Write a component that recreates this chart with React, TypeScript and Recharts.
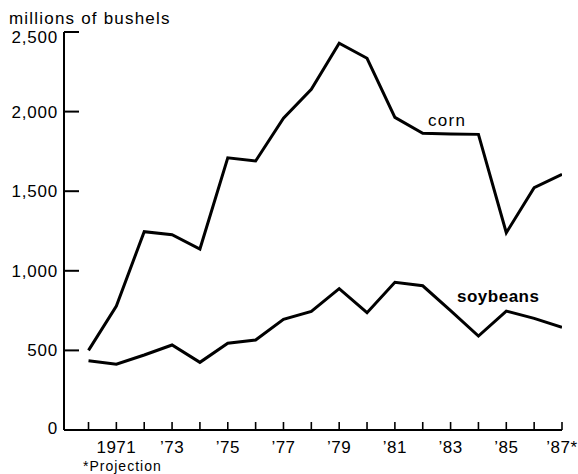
import React from 'react';
import { LineChart, Line, XAxis, YAxis } from 'recharts';

const years = [1970, 1971, 1972, 1973, 1974, 1975, 1976, 1977, 1978, 1979, 1980, 1981, 1982, 1983, 1984, 1985, 1986, 1987];
const cornValues = [500, 779, 1246, 1227, 1137, 1710, 1690, 1958, 2140, 2429, 2335, 1964, 1864, 1860, 1857, 1239, 1522, 1606];
const soybeanValues = [435, 413, 471, 534, 425, 545, 565, 695, 745, 888, 737, 928, 906, 750, 590, 747, 701, 645];

const yTicks = [0, 500, 1000, 1500, 2000, 2500];
const yTickLabels = ['0', '500', '1,000', '1,500', '2,000', '2,500'];
const labeledYears = [1971, 1973, 1975, 1977, 1979, 1981, 1983, 1985, 1987];
const xTickLabels = ['1971', '\u201973', '\u201975', '\u201977', '\u201979', '\u201981', '\u201983', '\u201985', '\u201987*'];

const data = years.map((year, i) => ({ year, corn: cornValues[i], soybeans: soybeanValues[i] }));

const FONT = '"Liberation Sans", Arial, Helvetica, sans-serif';

const XTick = (props: any) => {
  const { x, y, payload } = props;
  const idx = labeledYears.indexOf(payload.value);
  return (
    <g>
      <line x1={x} x2={x} y1={y} y2={y - 8} stroke="#000" strokeWidth={1.6} />
      {idx >= 0 && (
        <text x={x} y={y + 23} textAnchor="middle" fontFamily={FONT} fontSize={17} letterSpacing={0.5} fill="#000">
          {xTickLabels[idx]}
        </text>
      )}
    </g>
  );
};

const YTick = (props: any) => {
  const { x, y, payload } = props;
  const idx = yTicks.indexOf(payload.value);
  const isTop = idx === yTicks.length - 1;
  const isBottom = idx === 0;
  const dy = isTop ? 11 : isBottom ? 4 : 6;
  return (
    <g>
      <line x1={x} x2={x + 15} y1={y} y2={y} stroke="#000" strokeWidth={2} />
      <text x={x - 6} y={y + dy} textAnchor="end" fontFamily={FONT} fontSize={17} letterSpacing={0.8} fill="#000">
        {idx >= 0 ? yTickLabels[idx] : ''}
      </text>
    </g>
  );
};

export default function App() {
  return (
    <div style={{ position: 'absolute', left: 0, top: 0, width: 578, height: 474, background: '#fff' }}>
      <LineChart width={578} height={474} data={data} margin={{ top: 32, right: 16, left: 14, bottom: 14 }}>
        <XAxis
          dataKey="year"
          type="number"
          domain={[1969.12, 1987]}
          ticks={years}
          interval={0}
          height={30}
          tickSize={0}
          tickMargin={0}
          tickLine={false}
          tick={(p: any) => <XTick {...p} />}
          axisLine={{ stroke: '#000', strokeWidth: 2 }}
          allowDataOverflow
        />
        <YAxis
          type="number"
          domain={[0, 2500]}
          ticks={yTicks}
          interval={0}
          width={50}
          tickSize={0}
          tickMargin={0}
          tickLine={false}
          tick={(p: any) => <YTick {...p} />}
          axisLine={{ stroke: '#000', strokeWidth: 2 }}
          allowDataOverflow
        />
        <Line type="linear" dataKey="corn" stroke="#000" strokeWidth={3} dot={false} isAnimationActive={false} />
        <Line type="linear" dataKey="soybeans" stroke="#000" strokeWidth={3} dot={false} isAnimationActive={false} />
      </LineChart>
      <svg width={578} height={474} style={{ position: 'absolute', left: 0, top: 0, pointerEvents: 'none' }}>
        <text x={9} y={24} fontFamily={FONT} fontSize={17} letterSpacing={1.2} fill="#000">millions of bushels</text>
        <text x={428} y={126} fontFamily={FONT} fontSize={17} letterSpacing={1.3} fill="#000">corn</text>
        <text x={457} y={302} fontFamily={FONT} fontSize={17} fontWeight={700} letterSpacing={0.5} fill="#000">soybeans</text>
        <text x={83} y={471} fontFamily={FONT} fontSize={14} letterSpacing={1} fill="#000">*Projection</text>
      </svg>
    </div>
  );
}
